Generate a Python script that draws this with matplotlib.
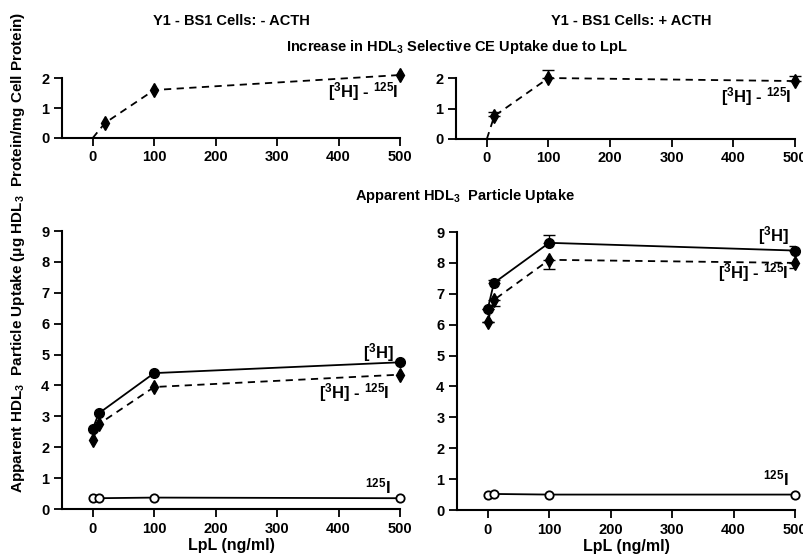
import matplotlib.pyplot as plt

plt.rcParams['font.family'] = ['Liberation Sans', 'DejaVu Sans']
plt.rcParams['font.weight'] = 'bold'
plt.rcParams['axes.labelweight'] = 'bold'
plt.rcParams['mathtext.default'] = 'regular'

# --- data ---
# top panels: increase in selective CE uptake ([3H] - 125I)
top_left_x = [0, 20, 100, 500]
top_left_y = [0, 0.5, 1.6, 2.1]

top_right_x = [0, 12, 100, 500]
top_right_y = [0, 0.75, 2.0, 1.9]
top_right_err_up = [0, 0.15, 0.25, 0.15]

# bottom panels: apparent particle uptake
lpl = [0, 10, 100, 500]
bl_h3 = [2.6, 3.1, 4.4, 4.75]
bl_diff = [2.25, 2.75, 3.95, 4.35]
bl_i125 = [0.35, 0.35, 0.37, 0.35]

br_h3 = [6.5, 7.35, 8.65, 8.4]
br_h3_err_up = [0, 0.1, 0.25, 0.15]
br_diff = [6.1, 6.8, 8.1, 8.0]
br_diff_err_dn = [0, 0.2, 0.3, 0.15]
br_i125 = [0.48, 0.52, 0.5, 0.5]

xticks = [0, 100, 200, 300, 400, 500]


def style_axis(ax, ymax, yticks):
    ax.set_xlim(-50, 500)
    ax.set_ylim(0, ymax)
    ax.set_xticks(xticks)
    ax.set_yticks(yticks)
    for s in ('top', 'right'):
        ax.spines[s].set_visible(False)
    for s in ('left', 'bottom'):
        ax.spines[s].set_linewidth(1.5)
    ax.tick_params(length=6, width=1.3, labelsize=10.5, pad=3)
    ax.patch.set_alpha(0)


fig = plt.figure(figsize=(8.04, 5.56), dpi=100)

ax_tl = fig.add_axes([0.0771, 0.7518, 0.4204, 0.1079])
ax_tr = fig.add_axes([0.5672, 0.7500, 0.4216, 0.1097])
ax_bl = fig.add_axes([0.0771, 0.0845, 0.4204, 0.5000])
ax_br = fig.add_axes([0.5684, 0.0827, 0.4204, 0.5000])

dash = (0, (4, 3))
mk = dict(clip_on=False, color='black')

# top left
ax_tl.plot(top_left_x, top_left_y, color='black', lw=1.3, linestyle=dash,
           clip_on=False)
ax_tl.plot(top_left_x[1:], top_left_y[1:], linestyle='none', marker='d',
           ms=7, **mk)
style_axis(ax_tl, 2, [0, 1, 2])
ax_tl.text(498, 1.55, '[$^3$H] - $^{125}$I', ha='right', va='center', fontsize=12)

# top right
ax_tr.plot(top_right_x, top_right_y, color='black', lw=1.3, linestyle=dash,
           clip_on=False)
ax_tr.errorbar(top_right_x[1:], top_right_y[1:],
               yerr=[[0] * 3, top_right_err_up[1:]], fmt='none',
               ecolor='black', elinewidth=1, capsize=4, clip_on=False)
ax_tr.plot(top_right_x[1:], top_right_y[1:], linestyle='none', marker='d',
           ms=7, **mk)
style_axis(ax_tr, 2, [0, 1, 2])
ax_tr.text(495, 1.4, '[$^3$H] - $^{125}$I', ha='right', va='center', fontsize=12)

# bottom left
ax_bl.plot(lpl, bl_h3, lw=1.3, marker='o', ms=7, **mk)
ax_bl.plot(lpl, bl_diff, lw=1.3, linestyle=dash, marker='d', ms=7, **mk)
ax_bl.plot(lpl, bl_i125, lw=1.3, marker='o', ms=6,
           markerfacecolor='white', markeredgewidth=1.3, **mk)
style_axis(ax_bl, 9, range(0, 10))
ax_bl.text(490, 4.68, '[$^3$H]', ha='right', va='bottom', fontsize=12)
ax_bl.text(483, 3.78, '[$^3$H] - $^{125}$I', ha='right', va='center', fontsize=12)
ax_bl.text(485, 0.4, '$^{125}$I', ha='right', va='bottom', fontsize=12)

# bottom right
ax_br.plot(lpl, br_h3, color='black', lw=1.3)
ax_br.plot(lpl, br_diff, color='black', lw=1.3, linestyle=dash)
ax_br.errorbar(lpl, br_h3, yerr=[[0] * 4, br_h3_err_up], fmt='none',
               ecolor='black', elinewidth=1, capsize=4)
ax_br.errorbar(lpl, br_diff, yerr=[br_diff_err_dn, [0] * 4], fmt='none',
               ecolor='black', elinewidth=1, capsize=4)
ax_br.plot(lpl, br_h3, linestyle='none', marker='o', ms=7, **mk)
ax_br.plot(lpl, br_diff, linestyle='none', marker='d', ms=7, **mk)
ax_br.plot(lpl, br_i125, lw=1.3, marker='o', ms=6,
           markerfacecolor='white', markeredgewidth=1.3, **mk)
style_axis(ax_br, 9, range(0, 10))
ax_br.text(490, 8.5, '[$^3$H]', ha='right', va='bottom', fontsize=12)
ax_br.text(490, 7.7, '[$^3$H] - $^{125}$I', ha='right', va='center', fontsize=12)
ax_br.text(490, 0.7, '$^{125}$I', ha='right', va='bottom', fontsize=12)

for ax in (ax_bl, ax_br):
    ax.set_xlabel('LpL (ng/ml)', fontsize=11.5, fontweight='bold', labelpad=2)

# titles
fig.text(0.288, 0.963, 'Y1 - BS1 Cells: - ACTH', ha='center', va='center', fontsize=10.5)
fig.text(0.785, 0.963, 'Y1 - BS1 Cells: + ACTH', ha='center', va='center', fontsize=10.5)
fig.text(0.568, 0.916, 'Increase in HDL$_3$ Selective CE Uptake due to LpL',
         ha='center', va='center', fontsize=10.5)
fig.text(0.578, 0.648, 'Apparent HDL$_3$  Particle Uptake',
         ha='center', va='center', fontsize=10.5)
fig.text(0.022, 0.546,
         'Apparent HDL$_3$  Particle Uptake ($\\mu$g HDL$_3$  Protein/mg Cell Protein)',
         ha='center', va='center', rotation=90, fontsize=11)

fig.savefig('out.png', dpi=100)
